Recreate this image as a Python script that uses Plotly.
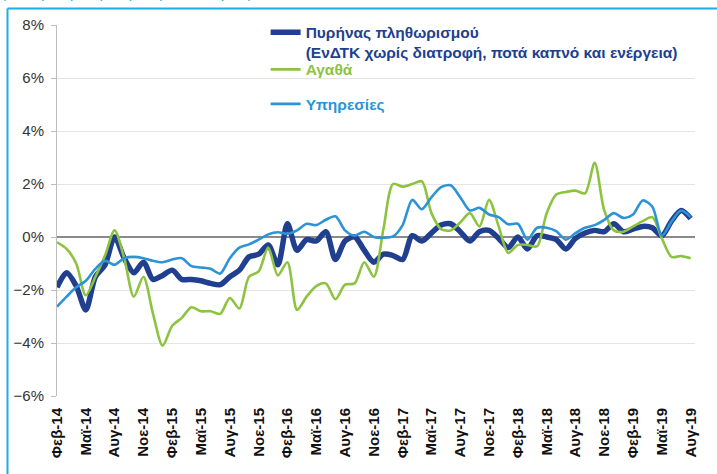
"""Core inflation vs goods and services, Feb 2014 - Aug 2019."""
import plotly.graph_objects as go

# ── Colours ─────────────────────────────────────────────────────────────
_C_CORE = "#213f8f"
_C_GOODS = "#8dc341"
_C_SERV = "#2b93d6"
_C_FRAME = "#1aaee6"
_C_GRID = "#e4e4e4"
_C_ZERO = "#8a8a8a"
_C_AXIS = "#bdbdbd"
_FONT = "Liberation Sans, Arial, sans-serif"

# ── Data (annual % change) ──────────────────────────────────────────────
_GR_MONTHS = ["Ιαν", "Φεβ", "Μαρ", "Απρ", "Μαϊ", "Ιουν",
              "Ιουλ", "Αυγ", "Σεπ", "Οκτ", "Νοε", "Δεκ"]
months = [f"{_GR_MONTHS[(m - 1) % 12]}-{14 + (m - 1) // 12}" for m in range(2, 69)]

tick_labels = ["Φεβ-14", "Μαϊ-14", "Αυγ-14", "Νοε-14", "Φεβ-15", "Μαϊ-15",
               "Αυγ-15", "Νοε-15", "Φεβ-16", "Μαϊ-16", "Αυγ-16", "Νοε-16",
               "Φεβ-17", "Μαϊ-17", "Αυγ-17", "Νοε-17", "Φεβ-18", "Μαϊ-18",
               "Αυγ-18", "Νοε-18", "Φεβ-19", "Μαϊ-19", "Αυγ-19"]

core = [-1.9, -1.35, -1.85, -2.75, -1.5, -1.05, 0.0, -0.8, -1.35, -0.95,
        -1.6, -1.45, -1.25, -1.6, -1.6, -1.65, -1.75, -1.8, -1.5, -1.25,
        -0.75, -0.65, -0.3, -1.05, 0.5, -0.5, -0.1, -0.15, 0.2, -0.85,
        -0.15, 0.0, -0.5, -0.95, -0.65, -0.7, -0.85, 0.05, -0.15, 0.15,
        0.45, 0.5, 0.2, -0.15, 0.2, 0.25, -0.05, -0.4, 0.0, -0.45,
        0.05, 0.0, -0.1, -0.45, -0.05, 0.15, 0.25, 0.2, 0.5, 0.2,
        0.3, 0.4, 0.35, 0.05, 0.6, 1.0, 0.7]

goods = [-0.2, -0.45, -1.0, -2.2, -1.5, -0.7, 0.25, -0.8, -2.25, -1.5,
         -2.9, -4.1, -3.35, -3.05, -2.65, -2.8, -2.8, -2.9, -2.3, -2.7,
         -1.5, -1.3, -0.4, -1.45, -0.95, -2.75, -2.25, -1.85, -1.75, -2.35,
         -1.8, -1.75, -0.95, -1.5, 0.3, 2.0, 1.9, 2.0, 2.1, 0.9,
         0.3, 0.25, 0.55, 0.9, 0.4, 1.4, 0.4, -0.6, -0.3, -0.3,
         -0.35, 0.9, 1.6, 1.7, 1.75, 1.65, 2.8, 1.0, 0.25, 0.2,
         0.4, 0.6, 0.75, -0.05, -0.75, -0.72, -0.8]

services = [-2.63, -2.25, -1.9, -1.65, -1.2, -0.9, -1.05, -0.8, -0.75, -0.8,
            -0.9, -0.95, -0.85, -0.8, -1.1, -1.15, -1.2, -1.38, -0.8, -0.4,
            -0.28, -0.1, 0.1, 0.18, 0.12, 0.25, 0.5, 0.45, 0.65, 0.78,
            0.25, 0.05, 0.2, 0.0, -0.03, 0.02, 0.45, 1.4, 1.05, 1.5,
            1.88, 1.95, 1.5, 1.0, 1.1, 0.85, 0.75, 0.48, 0.5, -0.1,
            0.35, 0.35, 0.22, -0.1, 0.15, 0.35, 0.45, 0.65, 0.9, 0.72,
            0.85, 1.38, 1.15, 0.05, 0.58, 1.0, 0.75]

name_core = ("<b>Πυρήνας πληθωρισμού</b><br>"
             "<b>(ΕνΔΤΚ χωρίς διατροφή, ποτά καπνό και ενέργεια)</b>")
name_goods = "<b>Αγαθά</b>"
name_serv = "<b>Υπηρεσίες</b>"

# ── Figure ──────────────────────────────────────────────────────────────
fig = go.Figure()

series = [
    (core, name_core, _C_CORE, 5.5, "legend"),
    (goods, name_goods, _C_GOODS, 2.6, "legend2"),
    (services, name_serv, _C_SERV, 2.6, "legend3"),
]
for values, name, color, width, leg in series:
    fig.add_trace(go.Scatter(
        x=months, y=values, mode="lines", name=name,
        line={"color": color, "width": width, "shape": "spline", "smoothing": 0.8},
        legend=leg,
    ))

_legend_base = {
    "bgcolor": "rgba(0,0,0,0)",
    "xanchor": "left",
    "yanchor": "top",
    "valign": "top",
    "x": 0.327,
}

fig.update_layout(
    width=717,
    height=474,
    autosize=False,
    paper_bgcolor="white",
    plot_bgcolor="white",
    margin={"l": 57, "r": 22, "t": 25, "b": 78},
    font={"family": _FONT, "color": "#222222", "size": 14},
    showlegend=True,
    legend={**_legend_base, "y": 1.025,
            "font": {"family": _FONT, "size": 15.5, "color": _C_CORE}},
    legend2={**_legend_base, "y": 0.925,
             "font": {"family": _FONT, "size": 15.5, "color": _C_GOODS}},
    legend3={**_legend_base, "y": 0.832,
             "font": {"family": _FONT, "size": 15.5, "color": _C_SERV}},
    xaxis={
        "type": "category",
        "range": [0, 66.45],
        "tickmode": "array",
        "tickvals": tick_labels,
        "ticktext": [f"<b>{t}</b>" for t in tick_labels],
        "tickangle": -90,
        "tickfont": {"family": _FONT, "size": 15, "color": "#111111"},
        "ticklabelstandoff": 8,
        "showgrid": False,
        "showline": False,
        "ticks": "",
        "zeroline": False,
    },
    yaxis={
        "range": [-6, 8],
        "dtick": 2,
        "tick0": 0,
        "ticksuffix": "%",
        "tickfont": {"family": _FONT, "size": 15, "color": "#333333"},
        "showgrid": True,
        "gridcolor": _C_GRID,
        "gridwidth": 1,
        "zeroline": True,
        "zerolinecolor": _C_ZERO,
        "zerolinewidth": 2,
        "showline": True,
        "linecolor": _C_AXIS,
        "linewidth": 1,
        "ticks": "outside",
        "ticklen": 5,
        "tickcolor": _C_AXIS,
        "ticklabelstandoff": 4,
    },
    shapes=[
        # cyan frame (left and top edges of the surrounding box)
        {"type": "line", "xref": "paper", "yref": "paper",
         "x0": -0.0776, "x1": -0.0776, "y0": 1.0445, "y1": -0.25,
         "line": {"color": _C_FRAME, "width": 2}},
        {"type": "line", "xref": "paper", "yref": "paper",
         "x0": -0.0776, "x1": 1.1, "y0": 1.0445, "y1": 1.0445,
         "line": {"color": _C_FRAME, "width": 2}},
    ],
    annotations=[
        # bottom of the (cropped) subtitle above the frame
        {"text": "(% ετήσια μεταβολή, Φεβ.14 - Αυγ.19)",
         "xref": "paper", "yref": "paper", "x": -0.0893, "y": 1.063,
         "xanchor": "left", "yanchor": "bottom", "showarrow": False,
         "borderpad": 0,
         "font": {"family": _FONT, "size": 15, "color": _C_FRAME}},
    ],
)

fig.write_html(
    "out.html",
    config={"displayModeBar": False},
    post_script="document.body.style.margin = '0px';",
)
